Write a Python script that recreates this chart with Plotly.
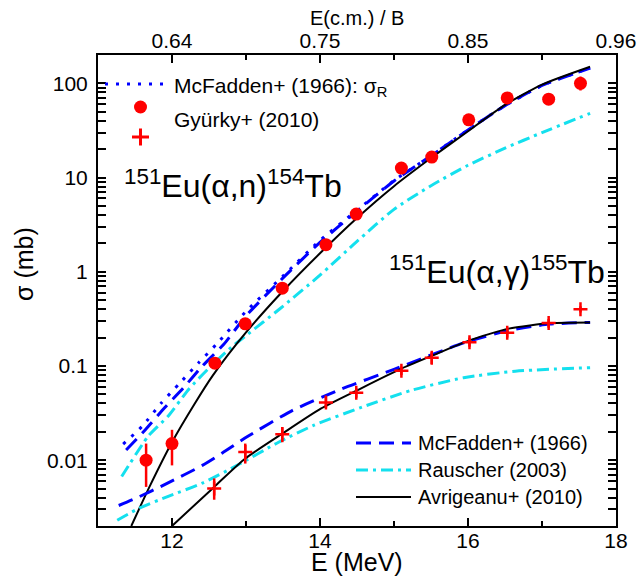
import math
import plotly.graph_objects as go

# ---------------- data ----------------
# Gyurky+ (2010) 151Eu(a,n)154Tb : circles
an_E = [11.65, 12.0, 12.58, 12.99, 13.49, 14.08, 14.49, 15.1, 15.51, 16.01, 16.53, 17.09, 17.52]
an_sig = [0.0100, 0.0150, 0.107, 0.28, 0.67, 1.94, 4.1, 12.6, 16.5, 41, 70, 68, 100]
an_lo = [0.0052, 0.0088, 0.095, 0.25, 0.60, 1.75, 3.7, 11.4, 14.8, 37, 62, 59, 84]
an_hi = [0.0150, 0.0210, 0.120, 0.31, 0.75, 2.15, 4.5, 13.9, 18.2, 45, 78, 78, 118]

# Gyurky+ (2010) 151Eu(a,g)155Tb : crosses
ag_E = [12.57, 12.99, 13.49, 14.08, 14.49, 15.1, 15.51, 16.02, 16.53, 17.09, 17.52]
ag_sig = [0.0050, 0.0122, 0.0188, 0.041, 0.052, 0.089, 0.122, 0.178, 0.225, 0.285, 0.40]
ag_lo = [0.0038, 0.0092, 0.0155, 0.036, 0.046, 0.080, 0.105, 0.160, 0.200, 0.255, 0.37]
ag_hi = [0.0064, 0.0150, 0.0225, 0.047, 0.058, 0.099, 0.140, 0.200, 0.255, 0.315, 0.43]

# McFadden+ (1966) reaction cross section sigma_R
mcfR_E = [11.34, 11.6, 11.85, 12.1, 12.36, 12.6, 13.0, 13.5, 14.0, 14.5, 15.0, 15.5, 16.0, 16.5, 17.0, 17.65]
mcfR_sig = [0.0148, 0.023, 0.040, 0.065, 0.108, 0.17, 0.38, 0.9, 2.15, 4.5, 9.3, 17, 32, 58, 95, 146]

# (a,n) model curves
mcfN_E = [11.38, 11.64, 11.9, 12.15, 12.4, 12.7, 13.0, 13.5, 14.0, 14.5, 15.0, 15.5, 16.0, 16.5, 17.0, 17.65]
mcfN_sig = [0.0128, 0.021, 0.036, 0.058, 0.098, 0.17, 0.34, 0.86, 2.05, 4.4, 9.2, 17, 32, 58, 95, 145]
rauN_E = [11.32, 11.68, 11.95, 12.23, 12.5, 12.81, 13.0, 13.45, 14.0, 14.5, 15.0, 15.5, 16.0, 16.5, 17.0, 17.65]
rauN_sig = [0.0067, 0.018, 0.0295, 0.057, 0.095, 0.16, 0.21, 0.40, 0.92, 2.1, 4.6, 8.2, 13.5, 20.5, 30, 48]
avrN_E = [11.45, 11.7, 12.0, 12.3, 12.55, 13.0, 13.5, 14.0, 14.5, 15.0, 15.5, 16.0, 16.5, 17.0, 17.65]
avrN_sig = [0.002, 0.0053, 0.0155, 0.039, 0.079, 0.227, 0.625, 1.57, 3.72, 8.1, 16.1, 31, 59, 97, 150]

# (a,g) model curves
mcfG_E = [11.28, 11.5, 11.94, 12.41, 12.68, 13.02, 13.63, 14.29, 15.0, 15.7, 16.0, 16.55, 17.1, 17.65]
mcfG_sig = [0.0033, 0.0039, 0.0057, 0.0088, 0.0119, 0.0178, 0.0338, 0.057, 0.092, 0.150, 0.182, 0.238, 0.278, 0.29]
rauG_E = [11.26, 11.56, 11.94, 12.41, 12.88, 13.44, 13.92, 14.57, 15.23, 15.94, 16.64, 17.65]
rauG_sig = [0.0023, 0.0031, 0.0041, 0.0057, 0.0088, 0.0155, 0.0235, 0.0366, 0.055, 0.075, 0.088, 0.096]
avrG_E = [12.0, 12.57, 12.99, 13.49, 14.01, 14.5, 15.09, 15.52, 16.02, 16.55, 17.12, 17.65]
avrG_sig = [0.002, 0.0052, 0.0104, 0.0191, 0.0352, 0.055, 0.093, 0.129, 0.187, 0.249, 0.285, 0.29]

# axes
x_range = [11, 18]
x_ticks = [12, 14, 16, 18]
x_minor = [13, 15, 17]
top_ticktext = ["0.64", "0.75", "0.85", "0.96"]
y_range = [0.002, 200]
y_ticks = [0.01, 0.1, 1, 10, 100]
y_ticktext = ["0.01", "0.1", "1", "10", "100"]

# ---------------- styling ----------------
FONT = "Liberation Sans, Arial, sans-serif"
BLUE = "#0000ff"
CYAN = "#14e0ee"
RED = "#ff0000"
W, H = 642, 578
L, R, T, B = 98, 616, 55, 526

def px(xp):
    return (xp - L) / (R - L)

def py(yp):
    return 1 - (yp - T) / (B - T)

y_minor = [m * 10 ** d for d in range(-3, 3) for m in range(2, 10)
           if y_range[0] <= m * 10 ** d <= y_range[1]]

fig = go.Figure()

def curve(xs, ys, color, width, dash):
    fig.add_trace(go.Scatter(x=xs, y=ys, mode="lines",
                             line=dict(color=color, width=width, dash=dash, shape="spline", smoothing=0.6),
                             showlegend=False, hoverinfo="skip"))

DOT = "3px,8px"
DASH = "15px,8px"
DASHDOT = "12px,5px,3px,5px"

# alpha,n curves
curve(rauN_E, rauN_sig, CYAN, 3, DASHDOT)
curve(mcfR_E, mcfR_sig, BLUE, 3, DOT)
curve(mcfN_E, mcfN_sig, BLUE, 3, DASH)
curve(avrN_E, avrN_sig, "black", 2, "solid")
# alpha,gamma curves
curve(rauG_E, rauG_sig, CYAN, 3, DASHDOT)
curve(mcfG_E, mcfG_sig, BLUE, 3, DASH)
curve(avrG_E, avrG_sig, "black", 2, "solid")

# data
fig.add_trace(go.Scatter(
    x=an_E, y=an_sig, mode="markers",
    marker=dict(symbol="circle", size=13, color=RED),
    error_y=dict(type="data", symmetric=False,
                 array=[h - s for h, s in zip(an_hi, an_sig)],
                 arrayminus=[s - l for s, l in zip(an_sig, an_lo)],
                 color=RED, thickness=2.5, width=0),
    showlegend=False))
fig.add_trace(go.Scatter(
    x=ag_E, y=ag_sig, mode="markers",
    marker=dict(symbol="cross-thin", size=10, color=RED, line=dict(color=RED, width=2.5)),
    error_y=dict(type="data", symmetric=False,
                 array=[h - s for h, s in zip(ag_hi, ag_sig)],
                 arrayminus=[s - l for s, l in zip(ag_sig, ag_lo)],
                 color=RED, thickness=2.5, width=0),
    showlegend=False))

# invisible helper so the top axis is drawn
fig.add_trace(go.Scatter(x=avrN_E, y=avrN_sig, xaxis="x2", mode="lines",
                         opacity=0, hoverinfo="skip", showlegend=False))

shapes = []
annotations = []

# legend 1 (top-left)
shapes.append(dict(type="line", xref="paper", yref="paper", x0=px(105), x1=px(169), y0=py(84), y1=py(84),
                   line=dict(color=BLUE, width=3, dash=DOT)))
annotations.append(dict(xref="paper", yref="paper", x=px(172), y=py(87), xanchor="left", yanchor="middle",
                        text="McFadden+ (1966): σ<sub>R</sub>", showarrow=False,
                        font=dict(family=FONT, size=21, color="black")))
shapes.append(dict(type="circle", xref="paper", yref="paper", x0=px(134), x1=px(147), y0=py(100.5), y1=py(113.5),
                   fillcolor=RED, line=dict(color=RED, width=0)))
annotations.append(dict(xref="paper", yref="paper", x=px(172), y=py(120), xanchor="left", yanchor="middle",
                        text="Gyürky+ (2010)", showarrow=False,
                        font=dict(family=FONT, size=21, color="black")))
shapes.append(dict(type="line", xref="paper", yref="paper", x0=px(132), x1=px(149), y0=py(137), y1=py(137),
                   line=dict(color=RED, width=3)))
shapes.append(dict(type="line", xref="paper", yref="paper", x0=px(140.5), x1=px(140.5), y0=py(128.5), y1=py(145.5),
                   line=dict(color=RED, width=3)))

# legend 2 (bottom-right)
leg2 = [("McFadden+ (1966)", BLUE, 3, DASH, 443),
        ("Rauscher (2003)", CYAN, 3, DASHDOT, 470),
        ("Avrigeanu+ (2010)", "black", 2, "solid", 497)]
for name, col, wd, ds, yy in leg2:
    shapes.append(dict(type="line", xref="paper", yref="paper", x0=px(356), x1=px(411), y0=py(yy), y1=py(yy),
                       line=dict(color=col, width=wd, dash=ds)))
    annotations.append(dict(xref="paper", yref="paper", x=px(416), y=py(yy), xanchor="left", yanchor="middle",
                            text=name, showarrow=False, font=dict(family=FONT, size=20, color="black")))

# reaction labels
annotations.append(dict(xref="paper", yref="paper", x=px(122), y=py(184), xanchor="left", yanchor="middle",
                        text="<sup>151</sup>Eu(α,n)<sup>154</sup>Tb", showarrow=False,
                        font=dict(family=FONT, size=32, color="black")))
annotations.append(dict(xref="paper", yref="paper", x=px(387), y=py(270), xanchor="left", yanchor="middle",
                        text="<sup>151</sup>Eu(α,γ)<sup>155</sup>Tb", showarrow=False,
                        font=dict(family=FONT, size=32, color="black")))
# axis titles
annotations.append(dict(xref="paper", yref="paper", x=px(24), y=py(264), xanchor="center", yanchor="middle",
                        text="σ (mb)", textangle=-90, showarrow=False,
                        font=dict(family=FONT, size=25, color="black")))
annotations.append(dict(xref="paper", yref="paper", x=px(357), y=py(578), xanchor="center", yanchor="bottom",
                        text="E (MeV)", showarrow=False,
                        font=dict(family=FONT, size=25, color="black")))
annotations.append(dict(xref="paper", yref="paper", x=px(357), y=py(18), xanchor="center", yanchor="middle",
                        text="E(c.m.) / B", showarrow=False,
                        font=dict(family=FONT, size=20, color="black")))

axis_common = dict(showgrid=False, zeroline=False, showline=True, linecolor="black", linewidth=2,
                   ticks="inside", ticklen=8, tickwidth=1.5, tickcolor="black", automargin=False,
                   tickfont=dict(family=FONT, size=21, color="black"))

fig.update_layout(
    template="none",
    width=W, height=H,
    margin=dict(l=L, r=W - R, t=T, b=H - B, autoexpand=False),
    paper_bgcolor="white", plot_bgcolor="white",
    showlegend=False,
    shapes=shapes, annotations=annotations,
    xaxis=dict(range=x_range, tickvals=x_ticks, ticktext=[str(v) for v in x_ticks],
               minor=dict(tickvals=x_minor, ticks="inside", ticklen=5, tickwidth=1.5, tickcolor="black"),
               ticklabelstandoff=-5,
               **axis_common),
    xaxis2=dict(range=x_range, overlaying="x", side="top", anchor="y",
                tickvals=x_ticks, ticktext=top_ticktext,
                minor=dict(tickvals=x_minor, ticks="inside", ticklen=5, tickwidth=1.5, tickcolor="black"),
                ticklabelstandoff=-3,
                **axis_common),
    yaxis=dict(type="log", range=[math.log10(y_range[0]), math.log10(y_range[1])],
               tickvals=y_ticks, ticktext=y_ticktext, mirror="allticks",
               minor=dict(tickvals=y_minor, ticks="inside", ticklen=5, tickwidth=1.5, tickcolor="black"),
               ticklabelstandoff=4,
               **axis_common),
)

fig.write_html("out.html",
               config={"displayModeBar": False},
               post_script="document.body.style.margin='0';document.body.style.padding='0';")
